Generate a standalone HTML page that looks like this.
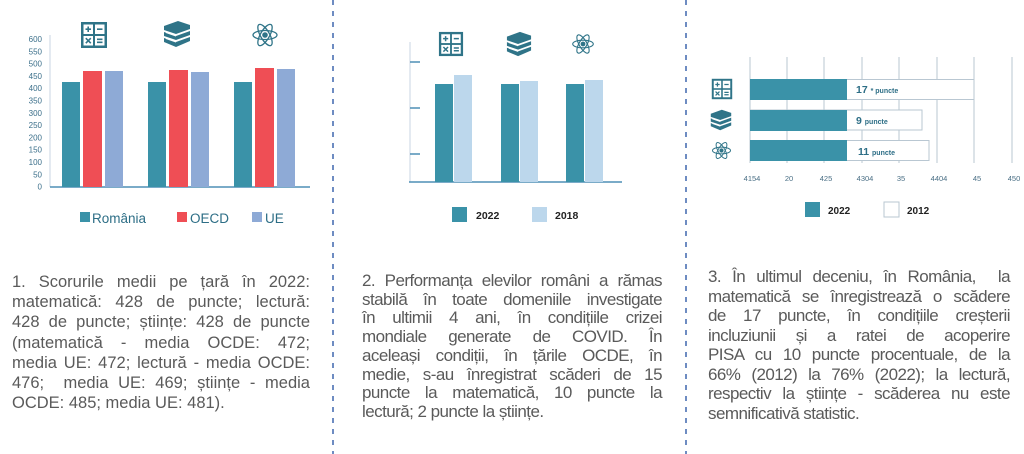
<!DOCTYPE html>
<html><head><meta charset="utf-8"><style>
html,body{margin:0;padding:0;background:#fff;width:1024px;height:454px;overflow:hidden}
svg{position:absolute;left:0;top:0}
.t{position:absolute;font-family:"Liberation Sans",sans-serif;color:#5a5a5a}
.t div{white-space:nowrap;text-align:justify;text-align-last:justify;height:inherit}
.t div.l{text-align-last:left}
</style></head><body>
<svg width="1024" height="454" viewBox="0 0 1024 454" font-family="Liberation Sans, sans-serif">
<defs>
<symbol id="calc" viewBox="0 0 28 28">
<rect x="1" y="1" width="26" height="26" fill="#2f7488"/>
<rect x="3.5" y="3.5" width="9.5" height="9.5" fill="#fff"/><rect x="15" y="3.5" width="9.5" height="9.5" fill="#fff"/>
<rect x="3.5" y="15" width="9.5" height="9.5" fill="#fff"/><rect x="15" y="15" width="9.5" height="9.5" fill="#fff"/>
<path d="M5.5 8.2h5.5M8.2 5.5v5.5M17 8.2h5.5M5.8 17.2l5 5M10.8 17.2l-5 5M17 18.3h5.5M17 21.3h5.5" stroke="#2f7488" stroke-width="1.6"/>
</symbol>
<symbol id="books" viewBox="0 0 30 28">
<path d="M2 6 L16 1 L28 5 L28 9 L14 14 L2 10Z" fill="#2f7488"/>
<path d="M2 12 L14 16 L28 11 L28 15 L14 20 L2 16Z" fill="#2f7488"/>
<path d="M2 18 L14 22 L28 17 L28 21 L14 27 L2 22Z" fill="#2f7488"/>
<path d="M4 12.5 L14 16 M4 18.5 L14 22" stroke="#fff" stroke-width="1"/>
</symbol>
<symbol id="atom" viewBox="0 0 28 28">
<g fill="none" stroke="#2f7488" stroke-width="1.3">
<ellipse cx="14" cy="14" rx="12" ry="4.5"/>
<ellipse cx="14" cy="14" rx="12" ry="4.5" transform="rotate(60 14 14)"/>
<ellipse cx="14" cy="14" rx="12" ry="4.5" transform="rotate(-60 14 14)"/>
</g><circle cx="14" cy="14" r="2.8" fill="#2f7488"/>
</symbol>
</defs>

<line x1="333" y1="0" x2="333" y2="454" stroke="#4a6fb3" stroke-width="1.6" stroke-dasharray="5,6"/>
<line x1="686" y1="0" x2="686" y2="454" stroke="#4a6fb3" stroke-width="1.6" stroke-dasharray="5,6"/>

<!-- Panel 1 -->
<use href="#calc" x="80" y="21" width="28" height="28"/>
<use href="#books" x="162" y="20" width="30" height="28"/>
<use href="#atom" x="251" y="21" width="28" height="28"/>
<line x1="50" y1="35" x2="50" y2="187" stroke="#c9d6e3" stroke-width="1"/>
<line x1="50" y1="187" x2="310" y2="187" stroke="#4e8fb5" stroke-width="1.5"/>
<g font-size="8" fill="#3b6f8a" text-anchor="end">
<text x="42" y="42">600</text><text x="42" y="54.3">550</text><text x="42" y="66.6">500</text><text x="42" y="78.9">450</text><text x="42" y="91.2">400</text><text x="42" y="103.5">350</text><text x="42" y="115.8">300</text><text x="42" y="128.1">250</text><text x="42" y="140.4">200</text><text x="42" y="152.7">150</text><text x="42" y="165">100</text><text x="42" y="177.3">50</text><text x="42" y="189.6">0</text>
</g>
<rect x="62" y="82" width="18" height="105" fill="#3a92a8"/><rect x="83" y="71" width="19" height="116" fill="#ef4e55"/><rect x="105" y="71" width="18" height="116" fill="#8eaad6"/>
<rect x="148" y="82" width="18" height="105" fill="#3a92a8"/><rect x="169" y="70" width="19" height="117" fill="#ef4e55"/><rect x="191" y="72" width="18" height="115" fill="#8eaad6"/>
<rect x="234" y="82" width="18" height="105" fill="#3a92a8"/><rect x="255" y="68" width="19" height="119" fill="#ef4e55"/><rect x="277" y="69" width="18" height="118" fill="#8eaad6"/>
<g font-size="13.5" fill="#2d6e86">
<rect x="80" y="212" width="10" height="10" fill="#3a92a8"/><text x="92" y="223">România</text>
<rect x="177" y="212" width="10" height="10" fill="#ef4e55"/><text x="190" y="223">OECD</text>
<rect x="252" y="212" width="10" height="10" fill="#8eaad6"/><text x="265" y="223">UE</text>
</g>

<!-- Panel 2 -->
<use href="#calc" x="438" y="31" width="26" height="26"/>
<use href="#books" x="505" y="31" width="28" height="26"/>
<use href="#atom" x="571" y="32" width="24" height="24"/>
<line x1="410" y1="42" x2="410" y2="182" stroke="#c9d6e3" stroke-width="1"/>
<g stroke="#4e8fb5" stroke-width="1.5">
<line x1="409" y1="182" x2="622" y2="182"/>
<line x1="410" y1="62" x2="420" y2="62"/><line x1="410" y1="108" x2="420" y2="108"/><line x1="410" y1="154" x2="420" y2="154"/>
</g>
<rect x="435" y="84" width="18" height="98" fill="#3a92a8"/><rect x="454" y="75" width="18" height="107" fill="#bcd7ec"/>
<rect x="501" y="84" width="18" height="98" fill="#3a92a8"/><rect x="520" y="81" width="18" height="101" fill="#bcd7ec"/>
<rect x="566" y="84" width="18" height="98" fill="#3a92a8"/><rect x="585" y="80" width="18" height="102" fill="#bcd7ec"/>
<g font-size="10.5" font-weight="bold" fill="#222">
<rect x="452" y="207" width="15" height="15" fill="#3a92a8"/><text x="476" y="219">2022</text>
<rect x="532" y="207" width="15" height="15" fill="#bcd7ec"/><text x="555" y="219">2018</text>
</g>

<!-- Panel 3 -->
<g stroke="#b9c7d2" stroke-width="1">
<line x1="750" y1="57" x2="750" y2="163"/><line x1="787" y1="57" x2="787" y2="163"/><line x1="824" y1="57" x2="824" y2="163"/><line x1="862" y1="57" x2="862" y2="163"/><line x1="899" y1="57" x2="899" y2="163"/><line x1="937" y1="57" x2="937" y2="163"/><line x1="974" y1="57" x2="974" y2="163"/><line x1="1012" y1="57" x2="1012" y2="163"/>
</g>
<use href="#calc" x="711" y="78" width="22" height="22"/>
<use href="#books" x="709" y="109" width="24" height="22"/>
<use href="#atom" x="711" y="140" width="21" height="21"/>
<g stroke="#b9c7d2" fill="#fff">
<rect x="750" y="79.5" width="224" height="20"/><rect x="750" y="110" width="172" height="20"/><rect x="750" y="140.5" width="179" height="20"/>
</g>
<rect x="750" y="79" width="97" height="21" fill="#3a92a8"/><rect x="750" y="110" width="97" height="21" fill="#3a92a8"/><rect x="750" y="140" width="97" height="21" fill="#3a92a8"/>
<g fill="#2d6e86" font-weight="bold">
<text x="856" y="93" font-size="10.5">17 <tspan font-size="7">* </tspan><tspan font-size="7">puncte</tspan></text>
<text x="856" y="124" font-size="10.5">9 <tspan font-size="7">puncte</tspan></text>
<text x="858" y="155" font-size="10.5">11 <tspan font-size="7">puncte</tspan></text>
</g>
<g font-size="7.5" fill="#4a6f85" text-anchor="middle">
<text x="752" y="181">4154</text><text x="789" y="181">20</text><text x="826" y="181">425</text><text x="865" y="181">4304</text><text x="901" y="181">35</text><text x="939" y="181">4404</text><text x="977" y="181">45</text><text x="1014" y="181">450</text>
</g>
<g font-size="10" font-weight="bold" fill="#222">
<rect x="805" y="202" width="15" height="15" fill="#3a92a8"/><text x="828" y="214">2022</text>
<rect x="884" y="202" width="15" height="15" fill="#fff" stroke="#b9c7d2"/><text x="907" y="214">2012</text>
</g>
</svg>

<div class="t" style="left:12px;top:272px;width:298px;line-height:20.2px;font-size:16.5px">
<div>1. Scorurile medii pe țară în 2022:</div>
<div>matematică: 428 de puncte; lectură:</div>
<div>428 de puncte; științe: 428 de puncte</div>
<div>(matematică - media OCDE: 472;</div>
<div>media UE: 472; lectură - media OCDE:</div>
<div>476; &nbsp;media UE: 469; științe - media</div>
<div class="l">OCDE: 485; media UE: 481).</div>
</div>
<div class="t" style="left:362px;top:272px;width:300px;line-height:18.7px;font-size:17px;letter-spacing:-0.55px">
<div>2. Performanța elevilor români a rămas</div>
<div>stabilă în toate domeniile investigate</div>
<div>în ultimii 4 ani, în condițiile crizei</div>
<div>mondiale generate de COVID. În</div>
<div>aceleași condiții, în țările OCDE, în</div>
<div>medie, s-au înregistrat scăderi de 15</div>
<div>puncte la matematică, 10 puncte la</div>
<div class="l">lectură; 2 puncte la științe.</div>
</div>
<div class="t" style="left:708px;top:267px;width:302px;line-height:19.5px;font-size:17px;letter-spacing:-0.55px">
<div>3. În ultimul deceniu, în România, &nbsp;la</div>
<div>matematică se înregistrează o scădere</div>
<div>de 17 puncte, în condițiile creșterii</div>
<div>incluziunii și a ratei de acoperire</div>
<div>PISA cu 10 puncte procentuale, de la</div>
<div>66% (2012) la 76% (2022); la lectură,</div>
<div>respectiv la științe - scăderea nu este</div>
<div class="l">semnificativă statistic.</div>
</div>
</body></html>
